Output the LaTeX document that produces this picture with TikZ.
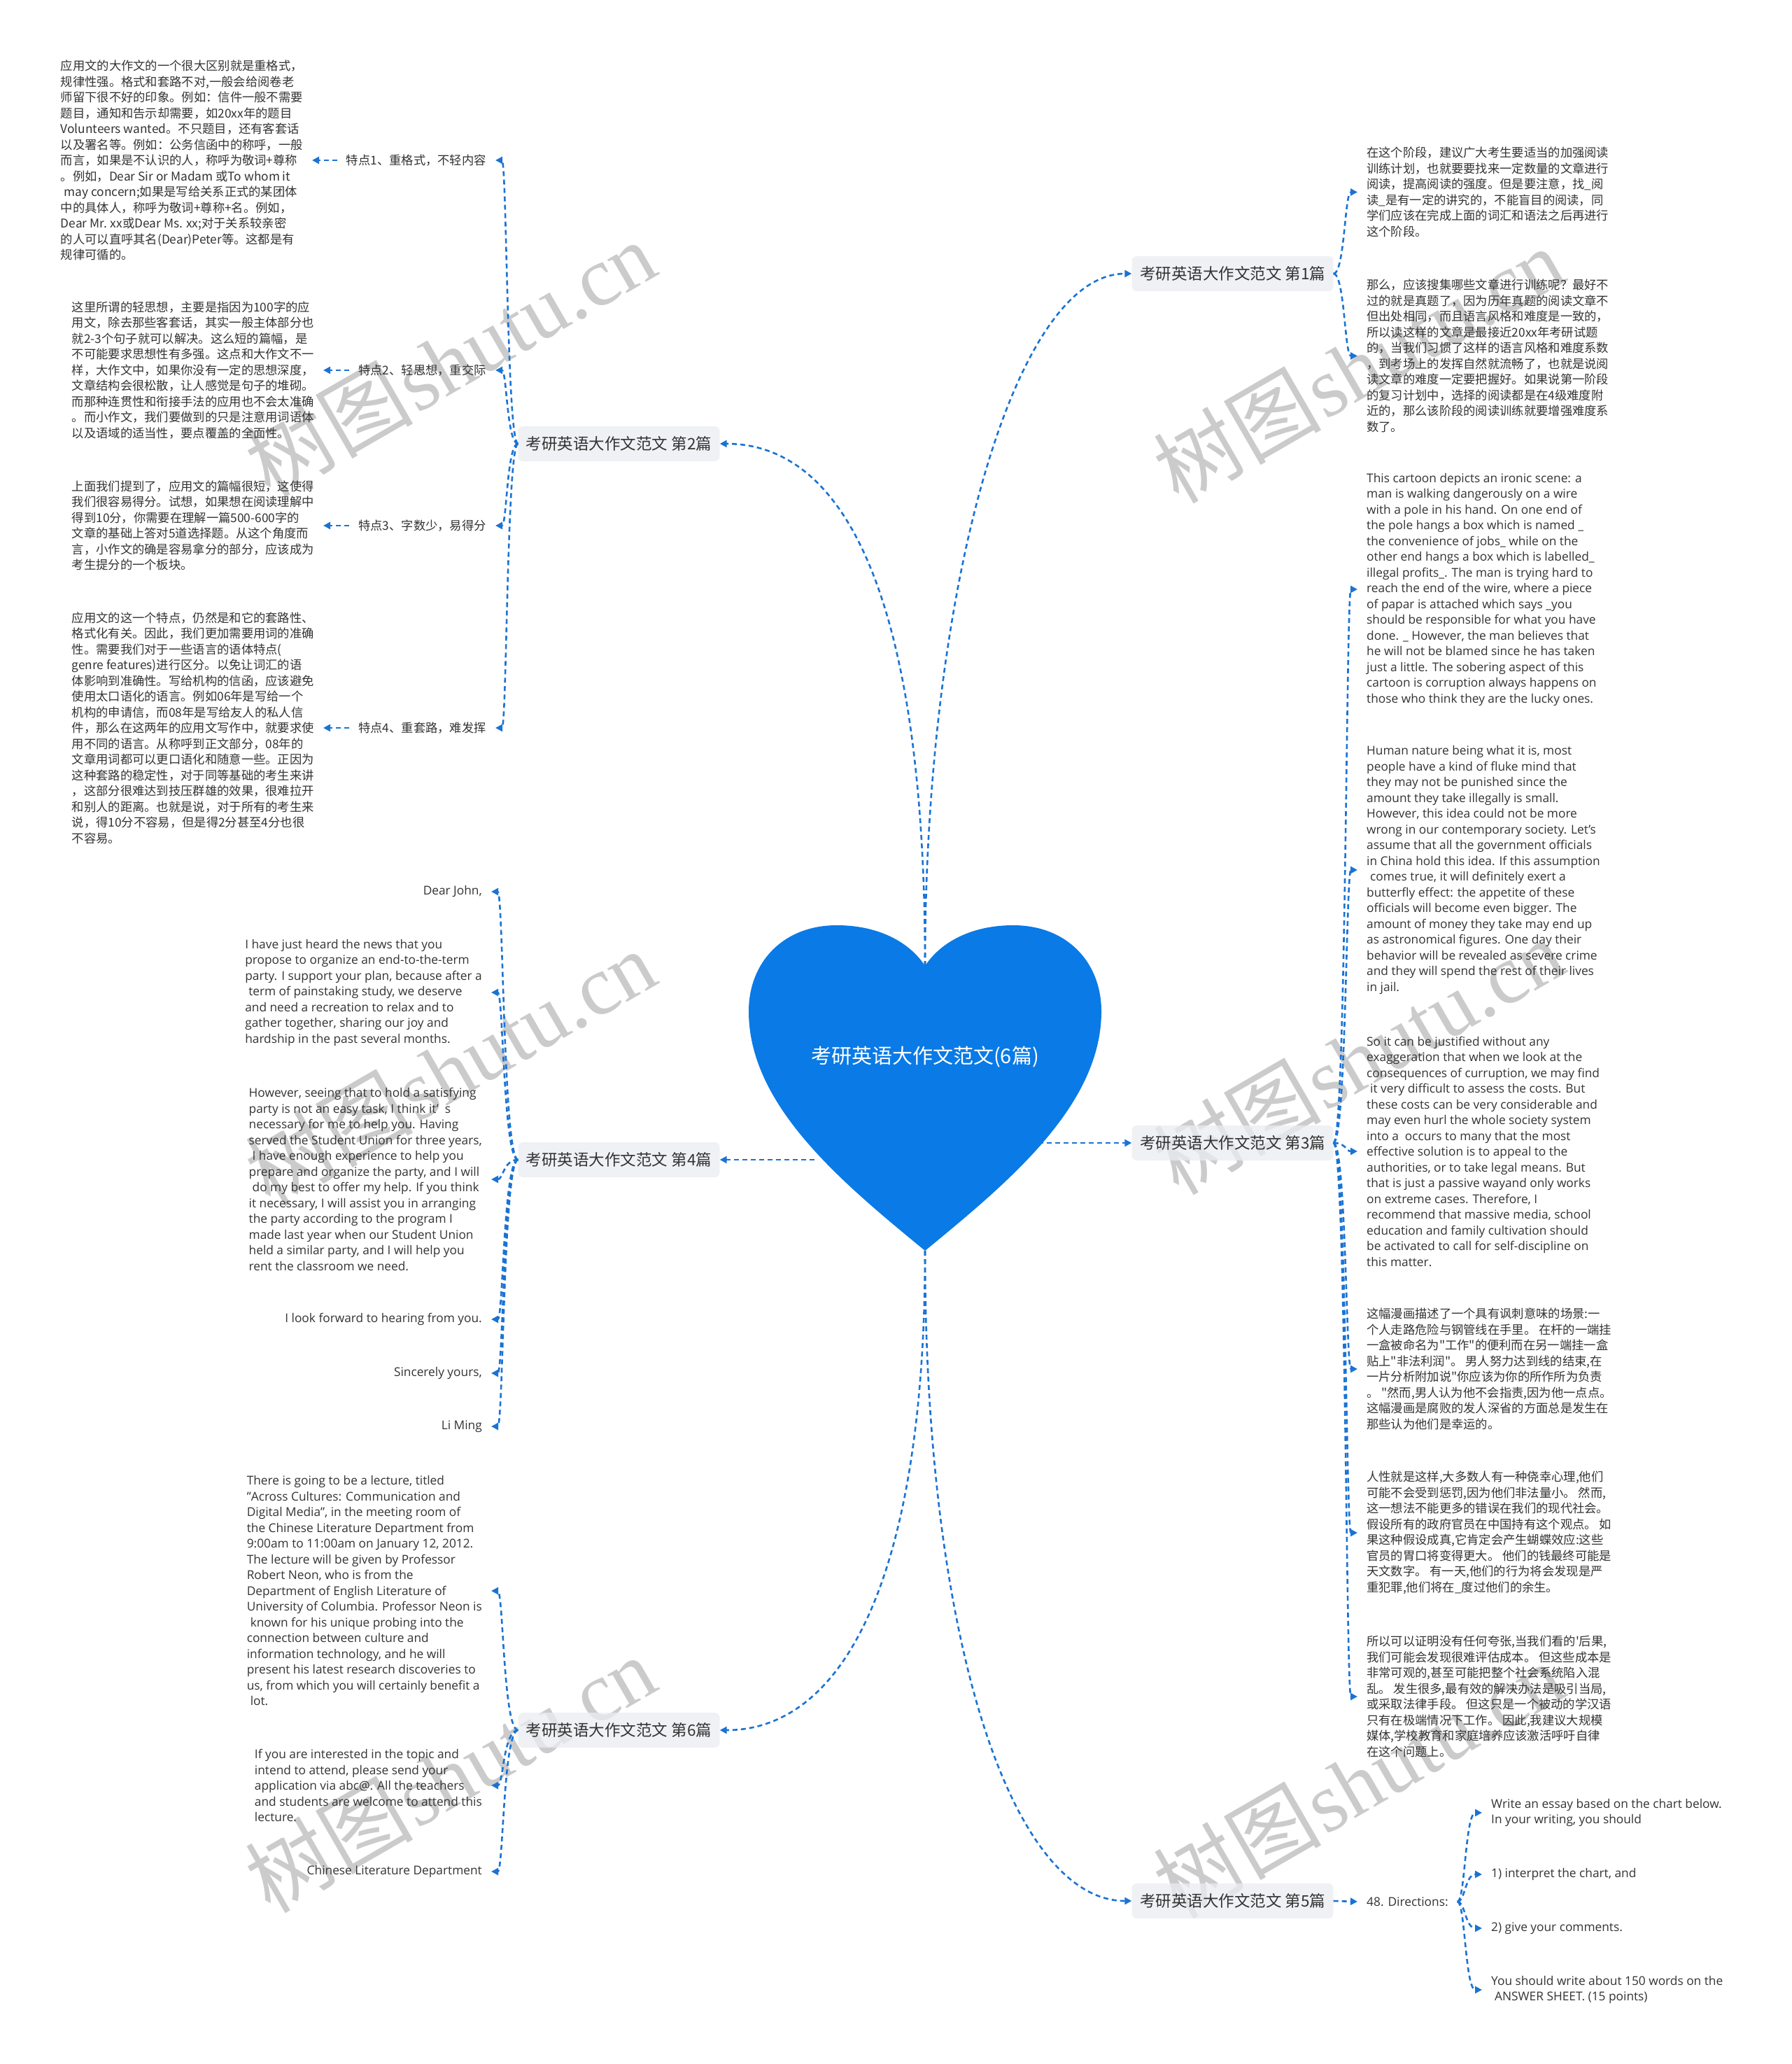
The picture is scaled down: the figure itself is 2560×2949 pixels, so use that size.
\documentclass[tikz,border=0pt]{standalone}
\usepackage{fontspec}
\setmainfont{Open Sans}
\newfontfamily\cjk{Noto Sans CJK SC}
\newfontfamily\wmserif{Liberation Serif}
\usetikzlibrary{arrows.meta}
\definecolor{lc}{HTML}{1A73D4}
\definecolor{heartc}{HTML}{0A7AE6}
\definecolor{boxc}{HTML}{EAEDF1}
\definecolor{txt}{HTML}{333333}
\definecolor{wm}{HTML}{CBCBCB}
\tikzset{
  conn/.style={draw=lc, line width=2.6pt, dash pattern=on 7pt off 5pt, -{Triangle[length=10pt,width=10pt]}},
  branch/.style={fill=boxc, fill opacity=0.75, text opacity=1, rounded corners=7pt, minimum width=288pt, minimum height=50pt, inner sep=0pt, text=txt, font=\cjk\fontsize{22.5}{26}\selectfont},
  cn/.style={inner xsep=13pt, inner ysep=0pt, align=left, text=txt, font=\cjk\fontsize{17.3}{22.5}\selectfont},
  en/.style={inner xsep=13pt, inner ysep=0pt, align=left, text=txt, font=\fontsize{17.3}{22.5}\selectfont},
  wmark/.style={text=wm, rotate=30, inner sep=0pt},
}
\newcommand{\wmtext}{{\cjk\fontsize{120}{130}\selectfont 树图} {\wmserif\fontsize{120}{130}\selectfont shutu.cn}}
\begin{document}
\begin{tikzpicture}[x=1pt,y=-1pt]
\useasboundingbox (0,0) rectangle (2560,2949);
\fill[white] (0,0) rectangle (2560,2949);
% watermarks
\node[wmark] (w1) at (643,512) {\wmtext};
\node[wmark] (w2) at (643,1525) {\wmtext};
\node[wmark] (w3) at (643,2534) {\wmtext};
\node[wmark] (w4) at (1941,521) {\wmtext};
\node[wmark] (w5) at (1941,1509) {\wmtext};
\node[wmark] (w6) at (1941,2543) {\wmtext};

% heart anchor points
\coordinate (htop) at (1322,1380);
\coordinate (hbot) at (1322,1787);
\coordinate (hright) at (1484,1633);
\coordinate (hleft) at (1164,1657);

% branch labels
\node[branch] (b1) at (1761.5,391) {考研英语大作文范文 第1篇};
\node[branch] (b2) at (884.5,634) {考研英语大作文范文 第2篇};
\node[branch] (b3) at (1761.5,1633) {考研英语大作文范文 第3篇};
\node[branch] (b4) at (884.5,1657) {考研英语大作文范文 第4篇};
\node[branch] (b5) at (1761.5,2716) {考研英语大作文范文 第5篇};
\node[branch] (b6) at (884.5,2472) {考研英语大作文范文 第6篇};

% ---------- branch 2 ----------
\node[cn, anchor=east] (t1) at (708,229) {特点1、重格式，不轻内容};
\node[cn, anchor=east] (t2) at (708,529) {特点2、轻思想，重交际};
\node[cn, anchor=east] (t3) at (708,751) {特点3、字数少，易得分};
\node[cn, anchor=east] (t4) at (708,1040) {特点4、重套路，难发挥};
\node[cn, anchor=east] (p1) at (446,229) {应用文的大作文的一个很大区别就是重格式，\\
规律性强。格式和套路不对,一般会给阅卷老\\
师留下很不好的印象。例如：信件一般不需要\\
题目，通知和告示却需要，如20xx年的题目\\
Volunteers wanted。不只题目，还有客套话\\
以及署名等。例如：公务信函中的称呼，一般\\
而言，如果是不认识的人，称呼为敬词+尊称\\
。例如，Dear Sir or Madam 或To whom it\\
\hspace*{5pt}may concern;如果是写给关系正式的某团体\\
中的具体人，称呼为敬词+尊称+名。例如，\\
Dear Mr. xx或Dear Ms. xx;对于关系较亲密\\
的人可以直呼其名(Dear)Peter等。这都是有\\
规律可循的。};
\node[cn, anchor=east] (p2) at (462,529) {这里所谓的轻思想，主要是指因为100字的应\\
用文，除去那些客套话，其实一般主体部分也\\
就2-3个句子就可以解决。这么短的篇幅，是\\
不可能要求思想性有多强。这点和大作文不一\\
样，大作文中，如果你没有一定的思想深度，\\
文章结构会很松散，让人感觉是句子的堆砌。\\
而那种连贯性和衔接手法的应用也不会太准确\\
。而小作文，我们要做到的只是注意用词语体\\
以及语域的适当性，要点覆盖的全面性。};
\node[cn, anchor=east] (p3) at (462,751) {上面我们提到了，应用文的篇幅很短，这使得\\
我们很容易得分。试想，如果想在阅读理解中\\
得到10分，你需要在理解一篇500-600字的\\
文章的基础上答对5道选择题。从这个角度而\\
言，小作文的确是容易拿分的部分，应该成为\\
考生提分的一个板块。};
\node[cn, anchor=east] (p4) at (462,1040) {应用文的这一个特点，仍然是和它的套路性、\\
格式化有关。因此，我们更加需要用词的准确\\
性。需要我们对于一些语言的语体特点(\\
genre features)进行区分。以免让词汇的语\\
体影响到准确性。写给机构的信函，应该避免\\
使用太口语化的语言。例如06年是写给一个\\
机构的申请信，而08年是写给友人的私人信\\
件，那么在这两年的应用文写作中，就要求使\\
用不同的语言。从称呼到正文部分，08年的\\
文章用词都可以更口语化和随意一些。正因为\\
这种套路的稳定性，对于同等基础的考生来讲\\
，这部分很难达到技压群雄的效果，很难拉开\\
和别人的距离。也就是说，对于所有的考生来\\
说，得10分不容易，但是得2分甚至4分也很\\
不容易。};

% ---------- branch 4 ----------
\node[en, anchor=east] (l1) at (702,1274) {Dear John,};
\node[en, anchor=east] (l2) at (702,1418) {I have just heard the news that you\\
propose to organize an end-to-the-term\\
party. I support your plan, because after a\\
\hspace*{5pt}term of painstaking study, we deserve\\
and need a recreation to relax and to\\
gather together, sharing our joy and\\
hardship in the past several months.};
\node[en, anchor=east] (l3) at (702,1685) {However, seeing that to hold a satisfying\\
party is not an easy task, I think it’\ \ s\\
necessary for me to help you. Having\\
served the Student Union for three years,\\
\hspace*{5pt}I have enough experience to help you\\
prepare and organize the party, and I will\\
\hspace*{5pt}do my best to offer my help. If you think\\
it necessary, I will assist you in arranging\\
the party according to the program I\\
made last year when our Student Union\\
held a similar party, and I will help you\\
rent the classroom we need.};
\node[en, anchor=east] (l4) at (702,1885) {I look forward to hearing from you.};
\node[en, anchor=east] (l5) at (702,1962) {Sincerely yours,};
\node[en, anchor=east] (l6) at (702,2038) {Li Ming};

% ---------- branch 6 ----------
\node[en, anchor=east] (m1) at (702,2273) {There is going to be a lecture, titled\\
"Across Cultures: Communication and\\
Digital Media", in the meeting room of\\
the Chinese Literature Department from\\
9:00am to 11:00am on January 12, 2012.\\
The lecture will be given by Professor\\
Robert Neon, who is from the\\
Department of English Literature of\\
University of Columbia. Professor Neon is\\
\hspace*{5pt}known for his unique probing into the\\
connection between culture and\\
information technology, and he will\\
present his latest research discoveries to\\
us, from which you will certainly benefit a\\
\hspace*{5pt}lot.};
\node[en, anchor=east] (m2) at (702,2551) {If you are interested in the topic and\\
intend to attend, please send your\\
application via abc@. All the teachers\\
and students are welcome to attend this\\
lecture.};
\node[en, anchor=east] (m3) at (702,2674) {Chinese Literature Department};

% ---------- branch 1 ----------
\node[cn, anchor=west] (r1) at (1940,274.5) {在这个阶段，建议广大考生要适当的加强阅读\\
训练计划，也就要要找来一定数量的文章进行\\
阅读，提高阅读的强度。但是要注意，找\_阅\\
读\_是有一定的讲究的，不能盲目的阅读，同\\
学们应该在完成上面的词汇和语法之后再进行\\
这个阶段。};
\node[cn, anchor=west] (r2) at (1940,508.5) {那么，应该搜集哪些文章进行训练呢？最好不\\
过的就是真题了，因为历年真题的阅读文章不\\
但出处相同，而且语言风格和难度是一致的，\\
所以读这样的文章是最接近20xx年考研试题\\
的，当我们习惯了这样的语言风格和难度系数\\
，到考场上的发挥自然就流畅了，也就是说阅\\
读文章的难度一定要把握好。如果说第一阶段\\
的复习计划中，选择的阅读都是在4级难度附\\
近的，那么该阶段的阅读训练就要增强难度系\\
数了。};

% ---------- branch 3 ----------
\node[en, anchor=west] (q1) at (1940,842) {This cartoon depicts an ironic scene: a\\
man is walking dangerously on a wire\\
with a pole in his hand. On one end of\\
the pole hangs a box which is named \_\\
the convenience of jobs\_ while on the\\
other end hangs a box which is labelled\_\\
illegal profits\_. The man is trying hard to\\
reach the end of the wire, where a piece\\
of papar is attached which says \_you\\
should be responsible for what you have\\
done. \_ However, the man believes that\\
he will not be blamed since he has taken\\
just a little. The sobering aspect of this\\
cartoon is corruption always happens on\\
those who think they are the lucky ones.};
\node[en, anchor=west] (q2) at (1940,1243) {Human nature being what it is, most\\
people have a kind of fluke mind that\\
they may not be punished since the\\
amount they take illegally is small.\\
However, this idea could not be more\\
wrong in our contemporary society. Let's\\
assume that all the government officials\\
in China hold this idea. If this assumption\\
\hspace*{5pt}comes true, it will definitely exert a\\
butterfly effect: the appetite of these\\
officials will become even bigger. The\\
amount of money they take may end up\\
as astronomical figures. One day their\\
behavior will be revealed as severe crime\\
and they will spend the rest of their lives\\
in jail.};
\node[en, anchor=west] (q3) at (1940,1645) {So it can be justified without any\\
exaggeration that when we look at the\\
consequences of curruption, we may find\\
\hspace*{5pt}it very difficult to assess the costs. But\\
these costs can be very considerable and\\
may even hurl the whole society system\\
into a\ \ occurs to many that the most\\
effective solution is to appeal to the\\
authorities, or to take legal means. But\\
that is just a passive wayand only works\\
on extreme cases. Therefore, I\\
recommend that massive media, school\\
education and family cultivation should\\
be activated to call for self-discipline on\\
this matter.};
\node[cn, anchor=west] (q4) at (1940,1956) {这幅漫画描述了一个具有讽刺意味的场景:一\\
个人走路危险与钢管线在手里。 在杆的一端挂\\
一盒被命名为"工作"的便利而在另一端挂一盒\\
贴上"非法利润"。 男人努力达到线的结束,在\\
一片分析附加说"你应该为你的所作所为负责\\
。 "然而,男人认为他不会指责,因为他一点点。\\
这幅漫画是腐败的发人深省的方面总是发生在\\
那些认为他们是幸运的。};
\node[cn, anchor=west] (q5) at (1940,2190) {人性就是这样,大多数人有一种侥幸心理,他们\\
可能不会受到惩罚,因为他们非法量小。 然而,\\
这一想法不能更多的错误在我们的现代社会。\\
假设所有的政府官员在中国持有这个观点。 如\\
果这种假设成真,它肯定会产生蝴蝶效应:这些\\
官员的胃口将变得更大。 他们的钱最终可能是\\
天文数字。 有一天,他们的行为将会发现是严\\
重犯罪,他们将在\_度过他们的余生。};
\node[cn, anchor=west] (q6) at (1940,2424) {所以可以证明没有任何夸张,当我们看的'后果,\\
我们可能会发现很难评估成本。 但这些成本是\\
非常可观的,甚至可能把整个社会系统陷入混\\
乱。 发生很多,最有效的解决办法是吸引当局,\\
或采取法律手段。 但这只是一个被动的学汉语\\
只有在极端情况下工作。 因此,我建议大规模\\
媒体,学校教育和家庭培养应该激活呼吁自律\\
在这个问题上。};

% ---------- branch 5 ----------
\node[en, anchor=west] (d) at (1940,2717) {48. Directions:};
\node[en, anchor=west] (e1) at (2118,2590) {Write an essay based on the chart below.\\
In your writing, you should};
\node[en, anchor=west] (e2) at (2118,2678) {1) interpret the chart, and};
\node[en, anchor=west] (e3) at (2118,2755) {2) give your comments.};
\node[en, anchor=west] (e4) at (2118,2843) {You should write about 150 words on the\\
\hspace*{5pt}ANSWER SHEET. (15 points)};

% spines
\coordinate (s1) at ([xshift=16pt]b1.east);
\coordinate (s2) at ([xshift=-16pt]b2.west);
\coordinate (s3) at ([xshift=18pt]b3.east);
\coordinate (s4) at ([xshift=-21pt]b4.west);
\coordinate (s5) at ([xshift=11pt]d.east);
\coordinate (s6) at ([xshift=-21pt]b6.west);

% connectors: heart to branches
\draw[conn] (htop) .. controls (1322,846) and (1448,391) .. (b1.west);
\draw[conn] (htop) .. controls (1322,846) and (1204,634) .. (b2.east);
\draw[conn] (hright) -- (b3.west);
\draw[conn] (hleft) -- (b4.east);
\draw[conn] (hbot) .. controls (1322,2351) and (1448,2716) .. (b5.west);
\draw[conn] (hbot) .. controls (1322,2257) and (1204,2472) .. (b6.east);

% branch 2 children
\foreach \c in {t1,t2,t3,t4}
  \draw[conn] (b2.west) .. controls (s2) and (s2 |- \c.east) .. (\c.east);
\draw[conn] (t1.west) -- (p1.east);
\draw[conn] (t2.west) -- (p2.east);
\draw[conn] (t3.west) -- (p3.east);
\draw[conn] (t4.west) -- (p4.east);
% branch 4 children
\foreach \c in {l1,l2,l3,l4,l5,l6}
  \draw[conn] (b4.west) .. controls (s4) and (s4 |- \c.east) .. (\c.east);
% branch 6 children
\foreach \c in {m1,m2,m3}
  \draw[conn] (b6.west) .. controls (s6) and (s6 |- \c.east) .. (\c.east);
% branch 1 children
\foreach \c in {r1,r2}
  \draw[conn] (b1.east) .. controls (s1) and (s1 |- \c.west) .. (\c.west);
% branch 3 children
\foreach \c in {q1,q2,q3,q4,q5,q6}
  \draw[conn] (b3.east) .. controls (s3) and (s3 |- \c.west) .. (\c.west);
% branch 5
\draw[conn] (b5.east) -- (d.west);
\foreach \c in {e1,e2,e3,e4}
  \draw[conn] (d.east) .. controls (s5) and (s5 |- \c.west) .. (\c.west);

% heart
\fill[heartc] (1322,1380) .. controls (1345,1345) and (1390,1322) .. (1448,1322)
  .. controls (1525,1322) and (1574,1375) .. (1574,1445)
  .. controls (1574,1580) and (1440,1690) .. (1322,1787)
  .. controls (1204,1690) and (1070,1580) .. (1070,1445)
  .. controls (1070,1375) and (1119,1322) .. (1196,1322)
  .. controls (1254,1322) and (1299,1345) .. (1322,1380) -- cycle;
\node[text=white, font=\cjk\fontsize{29}{34}\selectfont] (title) at (1322,1510) {考研英语大作文范文(6篇)};
\end{tikzpicture}
\end{document}
